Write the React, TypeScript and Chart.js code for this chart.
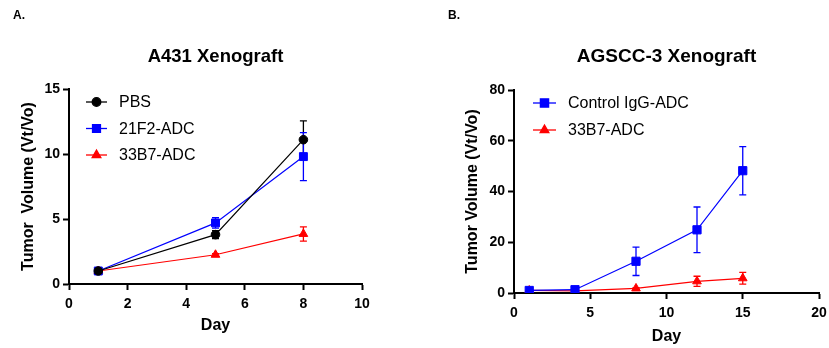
import React, { useEffect, useRef } from 'react';
import { Chart, registerables } from 'chart.js';
import { drawPoint } from 'chart.js/helpers';

Chart.register(...registerables);

// ---------- Data: panel A ----------
const daysA = [1, 5, 8];
const pbsA = [1.0, 3.8, 11.1];
const pbsErrA = [0.05, 0.3, 1.45];
const f21A = [1.0, 4.7, 9.8];
const f21ErrA = [0.05, 0.4, 1.85];
const b33A = [1.0, 2.25, 3.85];
const b33ErrA = [0.05, 0.08, 0.55];

// ---------- Data: panel B ----------
const daysB = [1, 4, 8, 12, 15];
const ctrlB = [1.0, 1.3, 12.5, 24.9, 48.2];
const ctrlErrB = [0.2, 0.4, 5.6, 9.0, 9.5];
const b33B = [1.0, 0.8, 1.8, 4.6, 5.8];
const b33ErrB = [0.1, 0.4, 0.3, 2.0, 2.3];

const xTicksA = { min: 0, max: 10, step: 2 };
const yTicksA = { min: 0, max: 15, step: 5 };
const xTicksB = { min: 0, max: 20, step: 5 };
const yTicksB = { min: 0, max: 80, step: 20 };

const FONT = '"Liberation Sans", Arial, Helvetica, sans-serif';
const BLACK = '#000000';
const BLUE = '#0000ff';
const RED = '#ff0000';

const errorBarPlugin = {
  id: 'errorBars',
  beforeDatasetsDraw(chart: any) {
    const ctx = chart.ctx;
    const yScale = chart.scales.y;
    chart.data.datasets.forEach((ds: any, i: number) => {
      const meta = chart.getDatasetMeta(i);
      if (!ds.errors) return;
      ctx.save();
      ctx.strokeStyle = ds.borderColor;
      ctx.lineWidth = 1.3;
      meta.data.forEach((pt: any, j: number) => {
        const v = ds.data[j].y;
        const e = ds.errors[j];
        const x = pt.x;
        const yt = yScale.getPixelForValue(v + e);
        const yb = yScale.getPixelForValue(v - e);
        ctx.beginPath();
        ctx.moveTo(x, yt);
        ctx.lineTo(x, yb);
        ctx.moveTo(x - 3.5, yt);
        ctx.lineTo(x + 3.5, yt);
        ctx.moveTo(x - 3.5, yb);
        ctx.lineTo(x + 3.5, yb);
        ctx.stroke();
      });
      ctx.restore();
    });
  },
};

function makeDecorPlugin(cfg: any) {
  return {
    id: 'decor',
    afterDraw(chart: any) {
      const ctx = chart.ctx;
      const ca = chart.chartArea;
      ctx.save();
      // panel label
      ctx.fillStyle = '#000';
      ctx.font = `bold 12px ${FONT}`;
      ctx.textAlign = 'left';
      ctx.textBaseline = 'middle';
      ctx.fillText(cfg.panel, cfg.panelX, 16);
      // title
      ctx.font = `bold ${cfg.titleSize}px ${FONT}`;
      ctx.textAlign = 'center';
      ctx.fillText(cfg.title, (ca.left + ca.right) / 2, 57);
      // legend
      chart.data.datasets.forEach((ds: any, i: number) => {
        const y = ca.top + cfg.legTop + i * cfg.legGap;
        const x0 = ca.left + cfg.legX0;
        const x1 = ca.left + cfg.legX1;
        ctx.strokeStyle = ds.borderColor;
        ctx.lineWidth = 1.3;
        ctx.beginPath();
        ctx.moveTo(x0, y);
        ctx.lineTo(x1, y);
        ctx.stroke();
        ctx.fillStyle = ds.pointBackgroundColor;
        ctx.strokeStyle = ds.borderColor;
        drawPoint(ctx, { pointStyle: ds.pointStyle, radius: ds.pointRadius, rotation: 0, borderWidth: 1 }, (x0 + x1) / 2, y);
        ctx.fillStyle = '#000';
        ctx.font = `16px ${FONT}`;
        ctx.textAlign = 'left';
        ctx.textBaseline = 'middle';
        ctx.fillText(ds.label, ca.left + cfg.legText, y + 1);
      });
      ctx.restore();
    },
  };
}

function mkDataset(label: string, xs: number[], ys: number[], errs: number[], color: string, style: string, r: number) {
  return {
    label,
    data: xs.map((x, i) => ({ x, y: ys[i] })),
    errors: errs,
    borderColor: color,
    backgroundColor: color,
    pointBackgroundColor: color,
    pointBorderColor: color,
    pointStyle: style,
    pointRadius: r,
    pointBorderWidth: 1,
    borderWidth: 1.2,
    showLine: true,
    tension: 0,
  };
}

function axis(t: any, title: string, fit: (s: any) => void, titlePad: any, tickPad: number) {
  return {
    type: 'linear',
    min: t.min,
    max: t.max,
    ticks: { stepSize: t.step, color: '#000', font: { family: FONT, size: 14, weight: 'bold' }, padding: tickPad },
    grid: { drawOnChartArea: false, drawTicks: true, tickLength: 6, tickColor: '#000', tickWidth: 2 },
    border: { color: '#000', width: 2 },
    title: { display: true, text: title, color: '#000', font: { family: FONT, size: 16, weight: 'bold' }, padding: titlePad },
    afterFit: fit,
  };
}

function Panel(props: { w: number; left: number; cfg: any; datasets: any[]; xt: any; yt: any; yWidth: number; xHeight: number; padTop: number; padRight: number; xTitlePad: number; yTitlePad: number; yTitle: string }) {
  const ref = useRef<HTMLCanvasElement>(null);
  useEffect(() => {
    const chart = new Chart(ref.current as HTMLCanvasElement, {
      type: 'scatter',
      data: { datasets: props.datasets as any },
      options: {
        animation: false,
        responsive: false,
        devicePixelRatio: 1,
        layout: { padding: { left: 0, top: props.padTop, right: props.padRight, bottom: 0 } },
        plugins: { legend: { display: false }, tooltip: { enabled: false }, title: { display: false } },
        scales: {
          x: axis(props.xt, 'Day', (s: any) => { s.height = props.xHeight; s.paddingLeft = 0; s.paddingRight = 0; }, { top: 0, bottom: props.xTitlePad }, 6),
          y: axis(props.yt, props.yTitle, (s: any) => { s.width = props.yWidth; s.paddingTop = 0; s.paddingBottom = 0; }, { top: props.yTitlePad, bottom: 0 }, 3),
        } as any,
      } as any,
      plugins: [errorBarPlugin, makeDecorPlugin(props.cfg)],
    });
    return () => chart.destroy();
  }, []);
  return (
    <canvas
      ref={ref}
      width={props.w}
      height={348}
      style={{ position: 'absolute', left: props.left, top: 0, width: props.w, height: 348 }}
    />
  );
}

export default function App() {
  const dsA = [
    mkDataset('PBS', daysA, pbsA, pbsErrA, BLACK, 'circle', 4.3),
    mkDataset('21F2-ADC', daysA, f21A, f21ErrA, BLUE, 'rect', 5.6),
    mkDataset('33B7-ADC', daysA, b33A, b33ErrA, RED, 'triangle', 5),
  ];
  const dsB = [
    mkDataset('Control IgG-ADC', daysB, ctrlB, ctrlErrB, BLUE, 'rect', 5.8),
    mkDataset('33B7-ADC', daysB, b33B, b33ErrB, RED, 'triangle', 5),
  ];
  return (
    <div style={{ position: 'absolute', left: 0, top: 0, width: 829, height: 348, background: '#fff' }}>
      <Panel
        w={400}
        left={0}
        datasets={dsA}
        xt={xTicksA}
        yt={yTicksA}
        yWidth={69}
        xHeight={64}
        padTop={89}
        padRight={38}
        xTitlePad={12.5}
        yTitlePad={19}
        yTitle={'Tumor  Volume (Vt/Vo)'}
        cfg={{ panel: 'A.', panelX: 13, title: 'A431 Xenograft', titleSize: 18.5, legX0: 17, legX1: 38, legText: 50, legTop: 13, legGap: 26.5 }}
      />
      <Panel
        w={419}
        left={410}
        datasets={dsB}
        xt={xTicksB}
        yt={yTicksB}
        yWidth={104}
        xHeight={55}
        padTop={90}
        padRight={10}
        xTitlePad={1.5}
        yTitlePad={53}
        yTitle={'Tumor Volume (Vt/Vo)'}
        cfg={{ panel: 'B.', panelX: 38, title: 'AGSCC-3 Xenograft', titleSize: 19, legX0: 19, legX1: 42, legText: 54, legTop: 13, legGap: 27 }}
      />
    </div>
  );
}
